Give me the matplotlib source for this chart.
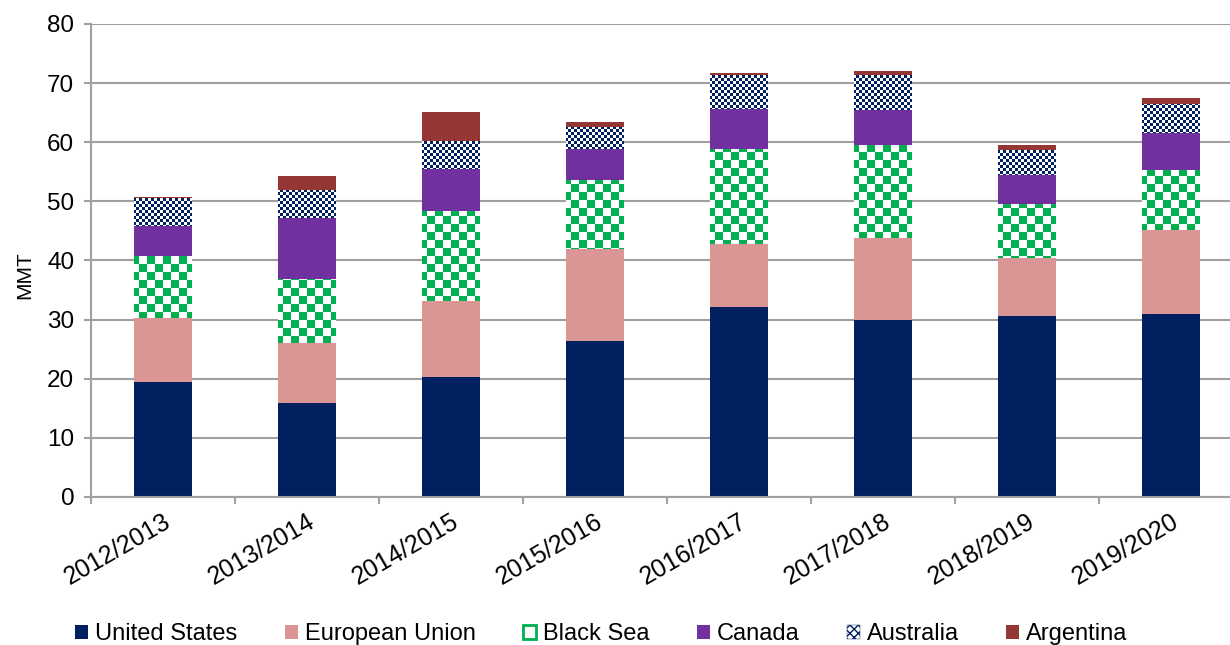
"""
Wheat exports by origin, stacked bars per marketing year.
Output: out.png
"""

import matplotlib
matplotlib.use("Agg")
import matplotlib.pyplot as plt
import numpy as np
from matplotlib.colors import to_rgb
from matplotlib.patches import PathPatch, Rectangle
from matplotlib.path import Path

# ---------------------------------------------------------------------------
# Data (MMT)
# ---------------------------------------------------------------------------

years = ["2012/2013", "2013/2014", "2014/2015", "2015/2016",
         "2016/2017", "2017/2018", "2018/2019", "2019/2020"]

united_states  = [19.5, 15.9, 20.3, 26.4, 32.1, 29.9, 30.6, 31.0]
european_union = [10.8, 10.1, 12.8, 15.5, 10.7, 13.9,  9.8, 14.2]
black_sea      = [10.5, 10.9, 15.3, 11.7, 16.1, 15.7,  9.2, 10.1]
canada         = [ 5.0, 10.3,  7.1,  5.3,  6.7,  6.0,  4.9,  6.3]
australia      = [ 4.8,  4.7,  4.7,  3.7,  5.8,  5.9,  4.2,  4.9]
argentina      = [ 0.2,  2.4,  4.9,  0.8,  0.3,  0.6,  0.8,  1.0]

# ---------------------------------------------------------------------------
# Style
# ---------------------------------------------------------------------------

NAVY   = "#002060"
PINK   = "#D99694"
GREEN  = "#00B050"
PURPLE = "#7030A0"
RED    = "#953735"
GRID   = "#A0A0A0"

plt.rcParams.update({
    "font.family": ["Liberation Sans", "DejaVu Sans"],
    "font.size":   17,
})

fig = plt.figure(figsize=(12.3, 6.45), dpi=100)
ax = fig.add_axes([0.074, 0.2295, 0.926, 0.7333])

x = np.arange(len(years))
bar_w = 0.4
XLIM = (-0.5, 7.41)
YLIM = (0, 80)

ax.set_xlim(*XLIM)
ax.set_ylim(*YLIM)


def checker_fill(ax, rects, color, cell):
    """Fill the given bar rectangles with a pixel checkerboard."""
    bb = ax.bbox
    w, h = int(round(bb.width)), int(round(bb.height))
    yy, xx = np.mgrid[0:h, 0:w]
    mask = ((xx // cell) + (yy // cell)) % 2 == 0
    rgba = np.ones((h, w, 4))
    rgba[mask, :3] = to_rgb(color)
    x0, x1 = ax.get_xlim()
    y0, y1 = ax.get_ylim()
    im = ax.imshow(rgba, extent=(x0, x1, y0, y1), origin="upper",
                   interpolation="nearest", aspect="auto", zorder=2.5)
    path = Path.make_compound_path(
        *[r.get_path().transformed(r.get_patch_transform()) for r in rects])
    im.set_clip_path(PathPatch(path, transform=ax.transData))
    ax.set_xlim(x0, x1)
    ax.set_ylim(y0, y1)


series = [
    ("United States",  united_states,  NAVY,    None),
    ("European Union", european_union, PINK,    None),
    ("Black Sea",      black_sea,      "white", (GREEN, 8)),
    ("Canada",         canada,         PURPLE,  None),
    ("Australia",      australia,      "white", (NAVY, 3)),
    ("Argentina",      argentina,      RED,     None),
]

bottom = np.zeros(len(years))
for name, vals, color, pattern in series:
    bars = ax.bar(x, vals, width=bar_w, bottom=bottom, color=color,
                  linewidth=0, zorder=2)
    if pattern is not None:
        checker_fill(ax, bars.patches, *pattern)
    bottom += np.array(vals)

# ---------------------------------------------------------------------------
# Axes
# ---------------------------------------------------------------------------

ax.set_yticks(np.arange(0, 81, 10))
ax.yaxis.grid(True, color=GRID, linewidth=1.5, zorder=0)
ax.set_axisbelow(True)

for side in ("top", "right"):
    ax.spines[side].set_visible(False)
for side in ("left", "bottom"):
    ax.spines[side].set_color(GRID)
    ax.spines[side].set_linewidth(1.5)

ax.tick_params(axis="y", length=5, width=1.5, color=GRID, pad=7,
               labelsize=17.5)

# tick marks between categories, labels under the bar centres
ax.set_xticks(np.arange(len(years)) - 0.5)
ax.set_xticklabels([])
ax.tick_params(axis="x", which="major", length=5, width=1.5, color=GRID)
ax.set_xticks(x, minor=True)
ax.set_xticklabels(years, minor=True, rotation=30, ha="right",
                   rotation_mode="anchor")
ax.tick_params(axis="x", which="minor", length=0, pad=9, labelsize=18)

# set_xticks may widen the view, so pin the limits again
ax.set_xlim(*XLIM)
ax.set_ylim(*YLIM)

ax.set_ylabel("MMT", fontsize=15)
ax.yaxis.set_label_coords(-0.05, 0.47)

# ---------------------------------------------------------------------------
# Legend
# ---------------------------------------------------------------------------

handles = [
    Rectangle((0, 0), 1, 1, facecolor=NAVY, linewidth=0),
    Rectangle((0, 0), 1, 1, facecolor=PINK, linewidth=0),
    Rectangle((0, 0), 1, 1, facecolor="white", edgecolor=GREEN, linewidth=2),
    Rectangle((0, 0), 1, 1, facecolor=PURPLE, linewidth=0),
    Rectangle((0, 0), 1, 1, facecolor="white", edgecolor=NAVY,
              linewidth=0.3, hatch="xxxx"),
    Rectangle((0, 0), 1, 1, facecolor=RED, linewidth=0),
]
labels = [s[0] for s in series]

fig.legend(handles, labels, loc="center", ncol=6,
           bbox_to_anchor=(0.489, 0.017), frameon=False,
           handlelength=0.55, handleheight=0.55, handletextpad=0.3,
           columnspacing=2.0, borderaxespad=0)

fig.savefig("out.png", dpi=100, facecolor="white")
